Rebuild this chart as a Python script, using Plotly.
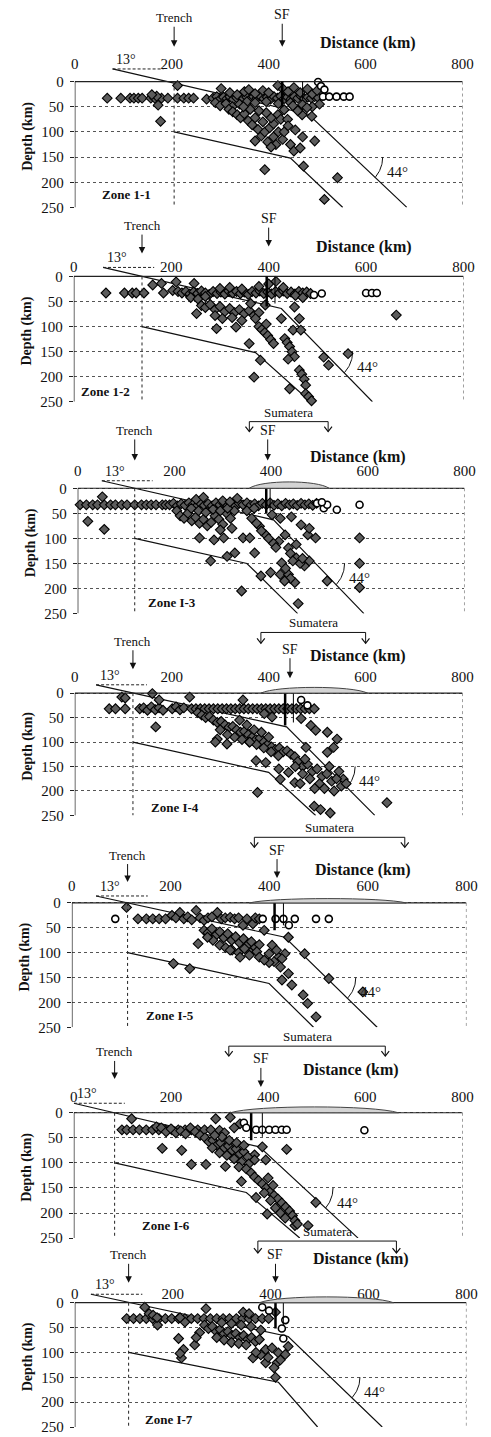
import math
import plotly.graph_objects as go

W, H = 491, 1437
SERIF = "Liberation Serif, Times New Roman, serif"

# ---------------- data (distance along profile in km, depth in km) ----------------
zone_labels = ["Zone 1-1", "Zone 1-2", "Zone I-3", "Zone I-4", "Zone I-5", "Zone I-6", "Zone I-7"]
distance_ticks = [0, 200, 400, 600, 800]
depth_ticks = [0, 50, 100, 150, 200, 250]

trench_km = [205, 140, 118, 120, 113, 84, 110]
sf_km = [428, 400, 393, 444, 416, 385, 410]

sumatera_from_km = [None, None, 355, 384, 370, 319, 374]
sumatera_to_km = [None, None, 518, 600, 675, 641, 657]

topo_from_km = [None, None, 355, 384, 360, 322, 377]
topo_to_km = [None, None, 520, 604, 678, 668, 651]
topo_height_km = [None, None, 13, 12, 9, 12, 12]

# upper surface of the slab: start (above sea level), knee, end
slab_top_x = [[78, 482, 685], [60, 426, 613], [50, 405, 592], [44, 437, 619],
              [49, 432, 619], [0, 382, 585], [33, 436, 628]]
slab_top_depth = [[-25, 65, 250], [-18, 64, 250], [-15, 63, 250], [-17, 69, 250],
                  [-14, 69, 250], [-19, 68, 250], [-17, 68, 250]]
# lower surface of the slab
slab_base_x = [[205, 445, 553], [140, 373, 486], [118, 350, 455], [120, 400, 497],
               [113, 400, 490], [84, 355, 465], [110, 416, 496]]
slab_base_depth = [[100, 152, 250], [100, 152, 250], [100, 150, 250], [100, 162, 250],
                   [100, 162, 250], [100, 159, 250], [100, 160, 250]]

# Sumatran Fault traces (main strand and branch) and their depth extent
sf_main_x = [428, 396, 390, 434, 411, 365, 410]
sf_main_depth = [50, 60, 50, 66, 55, 55, 52]
sf_branch_x = [470, 413, 398, 451, 429, 388, 426]
sf_branch_depth = [35, 54, 45, 60, 45, 48, 45]

dip_shallow_deg = 13
dip_deep_deg = 44

z1_quakes = [(67, 33), (95, 33), (114, 33), (122, 33), (131, 33), (139, 33), (157, 33), (165, 33), (179, 33),
             (192, 33), (212, 33), (225, 33), (235, 33), (245, 33), (272, 35), (172, 47), (169, 29), (159, 26),
             (212, 8), (177, 79),
             (285, 33), (293, 30), (300, 35), (307, 31), (314, 34), (320, 30), (327, 35), (334, 32), (341, 29),
             (348, 34), (355, 31), (362, 35), (369, 30), (376, 33), (383, 29), (390, 34), (397, 31), (404, 35),
             (411, 30), (418, 33), (425, 29), (432, 34), (439, 31), (446, 35), (453, 30), (460, 33), (467, 29),
             (474, 34), (481, 31), (488, 33), (495, 30), (502, 32),
             (302, 14), (320, 22), (335, 26), (350, 20), (359, 16), (372, 24), (388, 18), (400, 22), (419, 8),
             (430, 15), (440, 20), (452, 12), (465, 22), (480, 15), (490, 25), (500, 18),
             (290, 42), (300, 48), (312, 44), (325, 50), (340, 45), (355, 40), (372, 42), (395, 40), (420, 44),
             (445, 42), (470, 46), (490, 50), (505, 45),
             (318, 55), (326, 60), (335, 66), (342, 72), (350, 64), (358, 78), (366, 86), (372, 72), (378, 95),
             (385, 108), (372, 118), (392, 100), (402, 92), (410, 84), (419, 66), (425, 75), (432, 56), (439, 75),
             (429, 115), (445, 125), (452, 138), (465, 132), (410, 110), (398, 120), (420, 100), (455, 96),
             (470, 110), (495, 118), (469, 66), (489, 69), (479, 52), (450, 48), (460, 58), (388, 80), (405, 72),
             (395, 62), (380, 58), (362, 55), (348, 50), (440, 88), (432, 100), (415, 125), (405, 130),
             (472, 168), (392, 175), (542, 191), (515, 234)]
z1_circles = [(512, 30), (525, 30), (540, 30), (555, 30), (567, 30), (502, 1), (508, 9), (515, 16)]

z2_quakes = [(66, 33), (104, 33), (120, 33), (128, 33), (144, 33), (162, 17), (184, 33), (203, 28), (214, 30),
             (210, 11), (247, 14), (180, 14),
             (222, 33), (230, 30), (238, 35), (246, 31), (254, 34), (262, 29), (270, 33), (278, 36), (286, 30),
             (294, 34), (302, 31), (310, 35), (318, 29), (326, 33), (334, 30), (342, 34), (350, 31), (358, 36),
             (366, 30), (374, 33), (382, 29), (390, 34), (398, 31), (406, 35), (414, 30), (422, 33), (430, 29),
             (438, 34), (446, 31), (454, 35), (462, 30), (470, 33), (478, 31), (486, 34),
             (240, 42), (255, 45), (270, 40), (300, 24), (320, 22), (345, 25), (380, 20), (400, 15), (415, 10),
             (430, 22), (455, 38), (470, 42),
             (252, 74), (262, 58), (270, 62), (280, 56), (290, 66), (300, 60), (310, 70), (320, 64), (330, 72),
             (340, 66), (350, 74), (360, 68), (370, 78), (380, 72), (290, 78), (305, 84), (325, 82), (345, 88),
             (363, 54), (393, 57), (373, 84), (426, 84), (453, 61), (463, 84), (450, 107), (466, 107),
             (380, 100), (386, 106), (392, 112), (398, 118), (404, 126), (410, 134), (395, 95), (433, 124),
             (438, 132), (443, 140), (448, 150), (453, 160), (440, 165), (463, 187), (468, 195), (473, 205),
             (476, 217), (476, 234), (482, 240), (488, 248), (293, 104), (333, 101), (360, 134), (383, 167),
             (370, 201), (443, 224), (513, 161), (523, 177), (563, 154), (662, 77)]
z2_circles = [(493, 37), (509, 34), (600, 33), (612, 33), (622, 33)]

z3_quakes = [(5, 33), (18, 33), (31, 33), (41, 33), (55, 33), (68, 33), (78, 33), (91, 33), (102, 33), (118, 33),
             (132, 33), (142, 33), (152, 33), (162, 33), (175, 33), (182, 33), (21, 66), (55, 82), (51, 17),
             (190, 33), (198, 30), (206, 35), (214, 31), (222, 34), (230, 29), (238, 33), (246, 36), (254, 30),
             (262, 34), (270, 31), (278, 35), (286, 29), (294, 33), (302, 30), (310, 34), (318, 31), (326, 36),
             (334, 30), (342, 33), (350, 29), (358, 34), (366, 31), (374, 35), (382, 30), (390, 33), (398, 29),
             (406, 34), (414, 31), (422, 35), (430, 30), (438, 33), (446, 31), (454, 34), (462, 30), (470, 33),
             (478, 31), (486, 34), (494, 30),
             (205, 45), (212, 55), (220, 60), (228, 50), (236, 65), (244, 58), (252, 70), (260, 62), (268, 75),
             (276, 68), (284, 55), (292, 62), (300, 72), (308, 50), (316, 60), (324, 45), (235, 40), (250, 45),
             (265, 48), (280, 42), (295, 45), (310, 40), (245, 22), (260, 18), (300, 25), (315, 27), (330, 20),
             (252, 99), (282, 103), (302, 99), (319, 80), (325, 129), (295, 83), (275, 145), (309, 136), (342, 99),
             (366, 129), (356, 99), (376, 76), (402, 53), (389, 93), (416, 106), (429, 93), (419, 60), (436, 119),
             (452, 112), (476, 93), (492, 99), (462, 73), (442, 57), (422, 149), (419, 172), (436, 172),
             (449, 188), (399, 168), (379, 175), (452, 139), (469, 155), (479, 145), (516, 185), (583, 99),
             (583, 150), (583, 198), (339, 205), (456, 230), (479, 80), (360, 60), (370, 70), (380, 85),
             (395, 100), (405, 110), (410, 118), (350, 45), (365, 40), (440, 130), (445, 145), (460, 150),
             (465, 140), (430, 160), (440, 180), (428, 185)]
z3_circles = [(509, 40), (516, 33), (536, 43), (583, 33), (495, 30), (505, 28)]

z4_quakes = [(71, 32), (84, 32), (104, 32), (97, 8), (104, 10), (134, 32), (142, 30), (150, 35), (158, 28),
             (166, 34), (174, 30), (182, 35), (160, 1), (174, 14), (201, 32), (209, 28), (217, 34), (225, 30),
             (237, 8), (167, 69),
             (241, 32), (250, 32), (259, 32), (268, 32), (277, 32), (286, 32), (295, 32), (304, 32), (313, 32),
             (322, 32), (331, 32), (340, 32), (349, 32), (358, 32), (367, 32), (376, 32), (385, 32), (394, 32),
             (403, 32), (412, 32), (421, 32), (430, 32), (439, 32), (448, 32), (457, 32), (466, 32), (475, 32),
             (484, 32), (494, 32), (347, 14),
             (254, 40), (262, 45), (270, 50), (278, 48), (286, 55), (294, 60), (302, 58), (310, 65), (318, 70),
             (326, 68), (334, 75), (342, 80), (350, 78), (358, 85), (366, 90), (374, 95), (382, 92), (390, 100),
             (398, 105), (406, 110), (414, 115), (422, 112), (430, 120), (438, 118), (446, 125), (454, 130),
             (300, 75), (315, 85), (330, 90), (345, 95), (360, 100), (375, 105), (390, 112), (405, 120),
             (420, 128), (400, 90), (385, 80), (370, 75), (355, 65), (340, 55), (294, 94), (290, 100), (314, 104),
             (361, 100), (391, 42), (407, 49), (467, 52), (487, 66), (497, 76), (521, 80), (541, 94), (534, 111),
             (521, 121), (477, 111), (374, 138), (394, 142), (421, 155), (424, 176), (441, 162), (454, 183),
             (377, 203), (644, 224), (494, 231), (507, 238), (527, 245), (554, 176),
             (460, 140), (470, 150), (480, 145), (490, 160), (500, 155), (510, 170), (520, 165), (530, 180),
             (540, 175), (550, 190), (505, 185), (485, 175), (470, 165), (495, 195), (515, 195), (535, 200),
             (545, 160), (525, 150), (560, 185), (475, 135), (455, 150), (465, 185)]
z4_circles = [(467, 14), (480, 25)]

z5_quakes = [(134, 32), (151, 32), (164, 32), (177, 32), (190, 32), (203, 25), (211, 30), (219, 19), (227, 32),
             (235, 28), (243, 34), (252, 15), (260, 30), (268, 35), (276, 30), (284, 28), (295, 19), (303, 32),
             (311, 30), (321, 29), (330, 32), (338, 30), (347, 45), (355, 32), (367, 42), (372, 30), (380, 32),
             (111, 9),
             (268, 55), (276, 60), (284, 52), (292, 65), (300, 58), (308, 70), (316, 62), (324, 75), (332, 68),
             (340, 80), (348, 72), (356, 85), (364, 78), (372, 90), (380, 84), (300, 85), (312, 90), (325, 95),
             (338, 100), (350, 92), (362, 100), (375, 98), (286, 75), (256, 82), (275, 69), (321, 95), (341, 109),
             (360, 105), (380, 109), (400, 102), (419, 109), (406, 85), (439, 69), (432, 102), (426, 112),
             (423, 129), (439, 142), (426, 155), (446, 165), (469, 185), (478, 202), (495, 229), (472, 102),
             (206, 122), (239, 132), (521, 152), (590, 179), (390, 55), (410, 118), (400, 120), (390, 115),
             (415, 95)]
z5_circles = [(88, 32), (387, 32), (413, 32), (429, 32), (452, 32), (495, 32), (521, 32), (440, 45)]

z6_quakes = [(99, 34), (109, 34), (122, 34), (135, 34), (149, 34), (162, 34), (175, 34), (189, 34), (202, 34),
             (215, 34), (229, 34), (242, 34), (255, 34), (269, 34), (282, 34), (170, 28), (180, 30), (190, 38),
             (200, 32), (210, 40), (220, 36), (230, 42), (240, 30), (250, 38), (260, 45), (119, 12), (292, 12),
             (322, 9), (342, 22), (330, 30), (300, 35), (310, 40),
             (182, 71), (222, 75), (242, 103), (272, 103), (312, 107), (345, 137), (375, 169), (398, 202),
             (438, 73), (372, 84), (388, 68), (372, 94), (395, 94), (498, 179), (455, 225), (482, 225),
             (270, 50), (278, 58), (286, 55), (294, 65), (302, 60), (310, 70), (318, 66), (326, 75), (334, 72),
             (342, 82), (350, 78), (358, 88), (285, 70), (300, 80), (315, 85), (330, 92), (345, 98), (360, 102),
             (320, 55), (335, 60), (350, 65), (305, 48), (290, 45), (340, 108), (355, 112),
             (365, 120), (372, 128), (380, 135), (388, 142), (396, 150), (404, 158), (412, 165), (420, 172),
             (428, 180), (436, 188), (444, 196), (450, 205), (455, 215), (460, 222), (392, 160), (405, 175),
             (415, 190), (425, 200), (435, 210), (400, 130), (410, 145)]
z6_circles = [(375, 34), (388, 34), (402, 34), (415, 34), (428, 34), (438, 34), (598, 35), (350, 20), (355, 30)]

z7_quakes = [(106, 32), (120, 32), (133, 32), (146, 32), (159, 32), (172, 32), (185, 32), (198, 32), (212, 32),
             (225, 32), (238, 32), (251, 32), (264, 32), (277, 32), (290, 32), (303, 32), (316, 32), (330, 32),
             (343, 32), (356, 32), (369, 32), (383, 32), (396, 32),
             (143, 9), (268, 12), (344, 19), (356, 22), (410, 19),
             (169, 45), (212, 72), (245, 85), (222, 94), (218, 111), (215, 102), (364, 111), (390, 94), (403, 91),
             (416, 101), (430, 104), (436, 88), (413, 121), (390, 121), (407, 131), (410, 150), (380, 105),
             (370, 100), (395, 110), (420, 115),
             (265, 45), (273, 52), (281, 48), (289, 58), (297, 54), (305, 62), (313, 58), (321, 66), (329, 62),
             (337, 70), (345, 66), (353, 74), (361, 70), (369, 78), (377, 74), (290, 70), (305, 75), (320, 80),
             (335, 82), (350, 85), (300, 40), (320, 42), (340, 45), (360, 48), (380, 55), (255, 60), (248, 70),
             (152, 22), (160, 25), (168, 30), (225, 39), (215, 30)]
z7_circles = [(383, 9), (397, 16), (430, 35), (423, 52), (426, 72)]

quakes = [z1_quakes, z2_quakes, z3_quakes, z4_quakes, z5_quakes, z6_quakes, z7_quakes]
circles = [z1_circles, z2_circles, z3_circles, z4_circles, z5_circles, z6_circles, z7_circles]

# ---------------- page layout (pixels) ----------------
DEPTH_MIN = -32
panel_left_px = [73, 72, 76, 73, 70, 72, 73]
panel_right_px = [473, 474, 475, 473, 477, 473, 477]
depth0_px = [82, 278, 491, 697, 908, 1119, 1310]
depth250_px = [208.6, 404, 617, 820, 1033, 1245, 1435]
xtick_label_px = [64, 268, 473, 680, 890, 1102, 1300]
distance_title_px = [(427, 32), (423, 237), (417, 448), (417, 660), (422, 875), (410, 1087), (420, 1277)]
trench_text_px = [18, 227, 433, 645, 860, 1058, 1262]
trench_tip_px = [47, 255, 463, 673, 887, 1085, 1290]
sf_text_px = [15, 220, 433, 653, 855, 1065, 1262]
sf_tip_px = [47, 248, 463, 682, 883, 1093, 1290]
sumatera_text_px = [None, None, 417, 630, 837, 1047, 1243]
sumatera_line_px = [None, None, 424, 636, 842, 1052, 1248]
sumatera_tip_px = [None, None, 434, 647, 852, 1062, 1260]
zone_label_pos = [(52, 224), (10, 229), (142, 228), (154, 234), (147, 226), (136, 224), (139, 235)]


def py(px):
    return 1 - px / H


fig = go.Figure()
shapes = []
annotations = []
axes = {}

for i in range(7):
    k = i + 1
    xname = "x" if k == 1 else f"x{k}"
    yname = "y" if k == 1 else f"y{k}"
    xkey = "xaxis" if k == 1 else f"xaxis{k}"
    ykey = "yaxis" if k == 1 else f"yaxis{k}"

    scale = (depth250_px[i] - depth0_px[i]) / 250.0
    top_px = depth0_px[i] + DEPTH_MIN * scale
    standoff = round((top_px - 10) - xtick_label_px[i])

    axes[xkey] = dict(
        domain=[panel_left_px[i] / W, panel_right_px[i] / W], anchor=yname, side="top",
        range=[0, 800], tickmode="array", tickvals=distance_ticks,
        showgrid=False, zeroline=False, showline=False, ticks="",
        ticklabelstandoff=standoff,
        tickfont=dict(family=SERIF, size=15, color="#111"),
    )
    axes[ykey] = dict(
        domain=[py(depth250_px[i]), py(top_px)], anchor=xname,
        range=[250, DEPTH_MIN], tickmode="array", tickvals=depth_ticks,
        showgrid=True, gridcolor="#555", griddash="dot", gridwidth=1,
        zeroline=False, showline=False, ticks="outside", ticklen=4, tickcolor="#222",
        ticklabelstandoff=3,
        tickfont=dict(family=SERIF, size=15, color="#111"),
        title=dict(text="Depth (km)", standoff=5,
                   font=dict(family=SERIF, size=14, color="#111", weight="bold")),
    )

    # frame: surface line, left axis, dotted right edge
    shapes.append(dict(type="line", xref=xname, yref=yname, x0=0, x1=800, y0=0, y1=0,
                       line=dict(color="#222", width=1.2)))
    shapes.append(dict(type="line", xref=xname, yref=yname, x0=0, x1=0, y0=0, y1=250,
                       line=dict(color="#111", width=1.3)))
    shapes.append(dict(type="line", xref=xname, yref=yname, x0=800, x1=800, y0=0, y1=250,
                       line=dict(color="#444", width=1, dash="dot")))
    # trench position
    shapes.append(dict(type="line", xref=xname, yref=yname, x0=trench_km[i], x1=trench_km[i], y0=0, y1=250,
                       line=dict(color="#222", width=1, dash="dot")))
    # 13 degree reference line
    x13, z13 = slab_top_x[i][0], slab_top_depth[i][0]
    shapes.append(dict(type="line", xref=xname, yref=yname, x0=x13, x1=x13 + 105, y0=z13, y1=z13,
                       line=dict(color="#222", width=1, dash="3px,2px")))
    annotations.append(dict(xref=xname, yref=yname, x=x13 + 28, y=z13, yanchor="bottom", showarrow=False,
                            text=f"{dip_shallow_deg}°",
                            font=dict(family=SERIF, size=14, color="#111")))
    # Sumatran Fault strands
    shapes.append(dict(type="line", xref=xname, yref=yname, x0=sf_main_x[i], x1=sf_main_x[i],
                       y0=0, y1=sf_main_depth[i], line=dict(color="#000", width=2.5)))
    shapes.append(dict(type="line", xref=xname, yref=yname, x0=sf_branch_x[i], x1=sf_branch_x[i],
                       y0=0, y1=sf_branch_depth[i], line=dict(color="#000", width=1)))
    # topography of Sumatra
    if topo_from_km[i] is not None:
        a, b, h = topo_from_km[i], topo_to_km[i], topo_height_km[i]
        w = b - a
        shapes.append(dict(type="path", xref=xname, yref=yname,
                           path=f"M {a},0 C {a + 0.15 * w},{-1.3 * h} {b - 0.15 * w},{-1.3 * h} {b},0 Z",
                           fillcolor="#d4d4d4", line=dict(color="#444", width=1)))

    # slab outlines
    fig.add_trace(go.Scatter(x=slab_top_x[i], y=slab_top_depth[i], mode="lines",
                             line=dict(color="#111", width=1.2), xaxis=xname, yaxis=yname, hoverinfo="skip"))
    fig.add_trace(go.Scatter(x=slab_base_x[i], y=slab_base_depth[i], mode="lines",
                             line=dict(color="#111", width=1.2), xaxis=xname, yaxis=yname, hoverinfo="skip"))

    # 44 degree angle arc at 150 km depth
    kx, kz = slab_top_x[i][1], slab_top_depth[i][1]
    ex, ez = slab_top_x[i][2], slab_top_depth[i][2]
    x150 = kx + (150 - kz) * (ex - kx) / (ez - kz)
    dip = math.atan2(ez - kz, ex - kx)
    r = 60
    n = 24
    arc_x = [x150 + r * math.cos(dip * j / n) for j in range(n + 1)]
    arc_z = [150 + r * math.sin(dip * j / n) for j in range(n + 1)]
    fig.add_trace(go.Scatter(x=arc_x, y=arc_z, mode="lines", line=dict(color="#111", width=1),
                             xaxis=xname, yaxis=yname, hoverinfo="skip"))
    annotations.append(dict(xref=xname, yref=yname, x=x150 + r + 4, y=180, xanchor="left", showarrow=False,
                            text=f"{dip_deep_deg}°",
                            font=dict(family=SERIF, size=15, color="#111")))

    # hypocentres
    qx, qz = zip(*quakes[i])
    fig.add_trace(go.Scatter(x=qx, y=qz, mode="markers", xaxis=xname, yaxis=yname, cliponaxis=False,
                             marker=dict(symbol="diamond", size=7.5, color="#5c5c5c",
                                         line=dict(color="#000", width=1.1))))
    cx, cz = zip(*circles[i])
    fig.add_trace(go.Scatter(x=cx, y=cz, mode="markers", xaxis=xname, yaxis=yname, cliponaxis=False,
                             marker=dict(symbol="circle", size=7, color="#ffffff",
                                         line=dict(color="#000", width=1.6))))

    # labels above the section
    annotations.append(dict(xref=xname, yref="paper", x=trench_km[i], y=py(trench_tip_px[i]),
                            text="Trench", showarrow=True, ax=0, ay=trench_text_px[i] - trench_tip_px[i],
                            arrowhead=2, arrowsize=1.3, arrowwidth=1, arrowcolor="#111",
                            font=dict(family=SERIF, size=13, color="#111")))
    annotations.append(dict(xref=xname, yref="paper", x=sf_km[i], y=py(sf_tip_px[i]),
                            text="SF", showarrow=True, ax=0, ay=sf_text_px[i] - sf_tip_px[i],
                            arrowhead=2, arrowsize=1.3, arrowwidth=1, arrowcolor="#111",
                            font=dict(family=SERIF, size=14, color="#111")))
    tx, ty = distance_title_px[i]
    annotations.append(dict(xref="paper", yref="paper", x=tx / W, y=py(ty), showarrow=False,
                            text="Distance (km)",
                            font=dict(family=SERIF, size=16, color="#111", weight="bold")))
    zx, zz = zone_label_pos[i]
    annotations.append(dict(xref=xname, yref=yname, x=zx, y=zz, xanchor="left", showarrow=False,
                            text=zone_labels[i],
                            font=dict(family=SERIF, size=13, color="#111", weight="bold")))

    if sumatera_from_km[i] is not None:
        s0, s1 = sumatera_from_km[i], sumatera_to_km[i]
        yl, yt = py(sumatera_line_px[i]), py(sumatera_tip_px[i])
        yv = py(sumatera_tip_px[i] - 5)
        shapes.append(dict(type="line", xref=xname, yref="paper", x0=s0, x1=s1, y0=yl, y1=yl,
                           line=dict(color="#111", width=1)))
        for sx in (s0, s1):
            shapes.append(dict(type="line", xref=xname, yref="paper", x0=sx, x1=sx, y0=yl, y1=yt,
                               line=dict(color="#111", width=1)))
            shapes.append(dict(type="path", xref=xname, yref="paper",
                               path=f"M {sx - 8},{yv} L {sx},{yt} L {sx + 8},{yv}",
                               line=dict(color="#111", width=1.2)))
        annotations.append(dict(xref=xname, yref="paper", x=(s0 + s1) / 2, y=yl,
                                yanchor="bottom", showarrow=False, text="Sumatera",
                                font=dict(family=SERIF, size=13, color="#111")))

fig.update_layout(
    width=W, height=H, margin=dict(l=0, r=0, t=0, b=0),
    paper_bgcolor="white", plot_bgcolor="white", showlegend=False,
    shapes=shapes, annotations=annotations, **axes,
)

fig.write_html("out.html")
